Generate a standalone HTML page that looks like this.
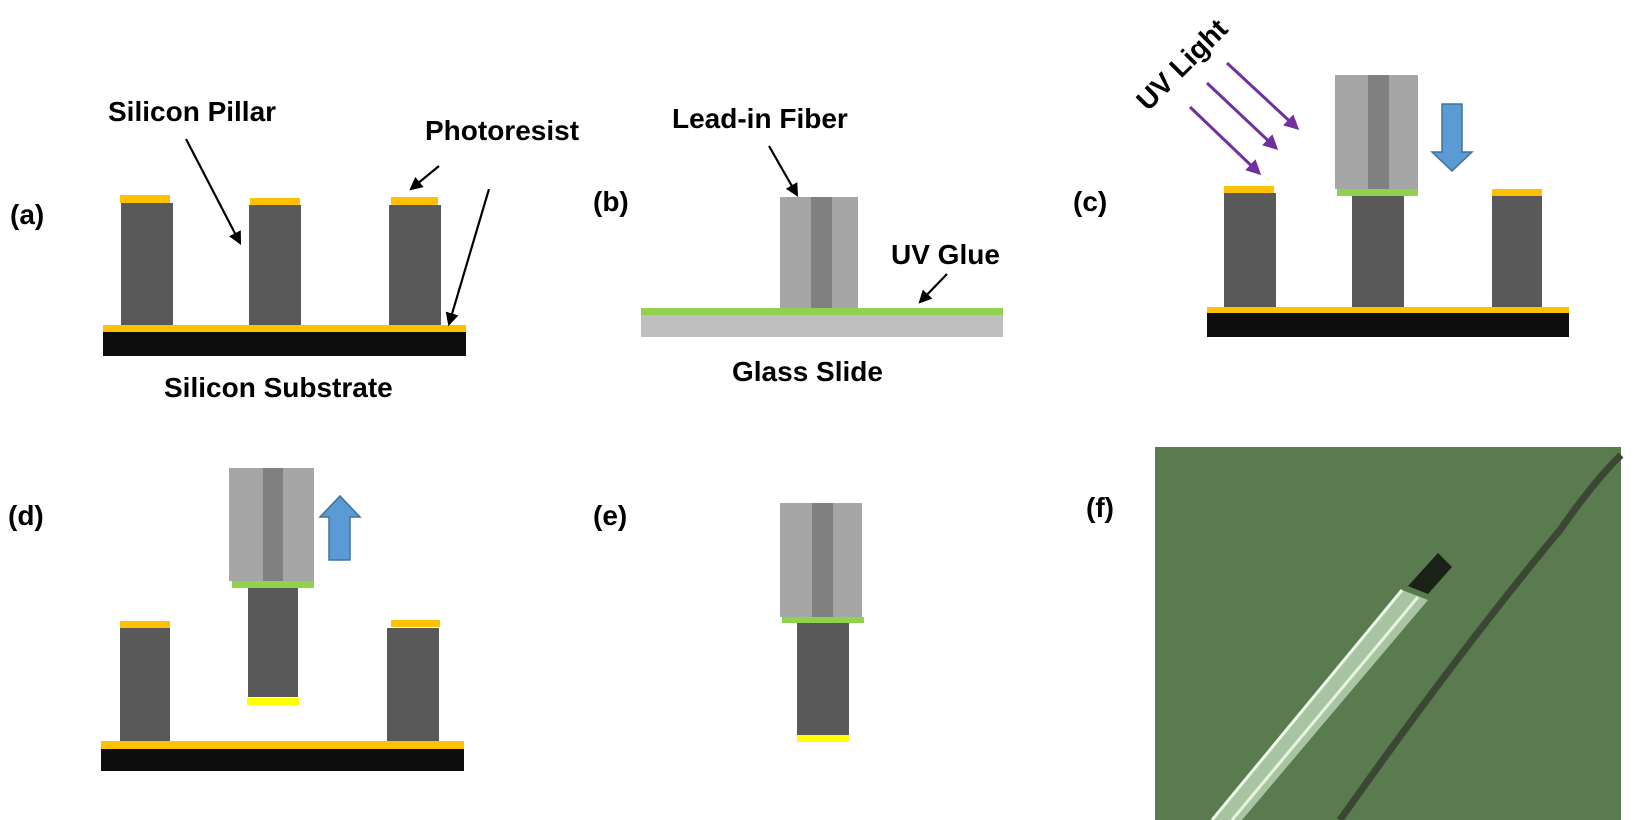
<!DOCTYPE html>
<html><head><meta charset="utf-8"><style>
html,body{margin:0;padding:0;background:#fff;}
svg{display:block;}
text{font-family:"Liberation Sans",sans-serif;font-weight:bold;font-size:28px;fill:#000;}
</style></head><body>
<svg width="1640" height="820" viewBox="0 0 1640 820" xmlns="http://www.w3.org/2000/svg">
<defs>
<marker id="ab" markerWidth="6" markerHeight="6" refX="5" refY="3" orient="auto" markerUnits="strokeWidth"><path d="M0,0 L6,3 L0,6 z" fill="#000"/></marker>
<marker id="ap" markerWidth="5" markerHeight="5" refX="4" refY="2.5" orient="auto" markerUnits="strokeWidth"><path d="M0,0 L5,2.5 L0,5 z" fill="#7030a0"/></marker>
</defs>
<!-- (a) -->
<text x="10" y="224">(a)</text>
<rect x="121" y="203" width="52" height="122" fill="#595959"/>
<rect x="120" y="195" width="50" height="8" fill="#ffc000"/>
<rect x="249" y="205" width="52" height="121" fill="#595959"/>
<rect x="250" y="198" width="50" height="7" fill="#ffc000"/>
<rect x="389" y="205" width="52" height="121" fill="#595959"/>
<rect x="391" y="197" width="47" height="8" fill="#ffc000"/>
<rect x="103" y="325" width="363" height="7" fill="#ffc000"/>
<rect x="103" y="332" width="363" height="24" fill="#0d0d0d"/>
<text x="108" y="121">Silicon Pillar</text>
<text x="425" y="140">Photoresist</text>
<text x="164" y="397">Silicon Substrate</text>
<line x1="186" y1="139" x2="240" y2="243" stroke="#000" stroke-width="2.2" marker-end="url(#ab)"/>
<line x1="439" y1="166" x2="411" y2="189" stroke="#000" stroke-width="2.2" marker-end="url(#ab)"/>
<line x1="489" y1="189" x2="449" y2="324" stroke="#000" stroke-width="2.2" marker-end="url(#ab)"/>
<!-- (b) -->
<text x="593" y="211">(b)</text>
<rect x="780" y="197" width="78" height="115" fill="#a6a6a6"/>
<rect x="811" y="197" width="21" height="115" fill="#808080"/>
<rect x="641" y="308" width="362" height="7" fill="#92d050"/>
<rect x="641" y="315" width="362" height="22" fill="#bfbfbf"/>
<text x="672" y="128">Lead-in Fiber</text>
<text x="891" y="264">UV Glue</text>
<text x="732" y="381">Glass Slide</text>
<line x1="769" y1="146" x2="797" y2="195" stroke="#000" stroke-width="2.2" marker-end="url(#ab)"/>
<line x1="947" y1="274" x2="920" y2="302" stroke="#000" stroke-width="2.2" marker-end="url(#ab)"/>
<!-- (c) -->
<text x="1073" y="211">(c)</text>
<text x="0" y="0" transform="translate(1148,112) rotate(-45)">UV Light</text>
<line x1="1190" y1="107" x2="1259" y2="173" stroke="#7030a0" stroke-width="3" marker-end="url(#ap)"/>
<line x1="1207" y1="83" x2="1276" y2="148" stroke="#7030a0" stroke-width="3" marker-end="url(#ap)"/>
<line x1="1227" y1="63" x2="1297" y2="128" stroke="#7030a0" stroke-width="3" marker-end="url(#ap)"/>
<rect x="1335" y="75" width="83" height="114" fill="#a6a6a6"/>
<rect x="1368" y="75" width="21" height="114" fill="#808080"/>
<rect x="1337" y="189" width="81" height="7" fill="#92d050"/>
<path d="M1442,104 L1462,104 L1462,152 L1472,152 L1452,171 L1432,152 L1442,152 z" fill="#5b9bd5" stroke="#41719c" stroke-width="1.5"/>
<rect x="1224" y="193" width="52" height="115" fill="#595959"/>
<rect x="1224" y="186" width="50" height="7" fill="#ffc000"/>
<rect x="1352" y="196" width="52" height="113" fill="#595959"/>
<rect x="1492" y="196" width="50" height="113" fill="#595959"/>
<rect x="1492" y="189" width="50" height="7" fill="#ffc000"/>
<rect x="1207" y="307" width="362" height="6" fill="#ffc000"/>
<rect x="1207" y="313" width="362" height="24" fill="#0d0d0d"/>
<!-- (d) -->
<text x="8" y="525">(d)</text>
<rect x="229" y="468" width="85" height="113" fill="#a6a6a6"/>
<rect x="263" y="468" width="20" height="113" fill="#808080"/>
<rect x="232" y="581" width="82" height="7" fill="#92d050"/>
<rect x="248" y="588" width="50" height="109" fill="#595959"/>
<rect x="247" y="698" width="52" height="7" fill="#ffff00"/>
<path d="M329,560 L350,560 L350,517 L360,517 L340,496 L320,517 L329,517 z" fill="#5b9bd5" stroke="#41719c" stroke-width="1.5"/>
<rect x="120" y="628" width="50" height="113" fill="#595959"/>
<rect x="120" y="621" width="50" height="7" fill="#ffc000"/>
<rect x="387" y="628" width="52" height="113" fill="#595959"/>
<rect x="391" y="620" width="49" height="7" fill="#ffc000"/>
<rect x="101" y="741" width="363" height="8" fill="#ffc000"/>
<rect x="101" y="749" width="363" height="22" fill="#0d0d0d"/>
<!-- (e) -->
<text x="593" y="525">(e)</text>
<rect x="780" y="503" width="82" height="114" fill="#a6a6a6"/>
<rect x="812" y="503" width="21" height="114" fill="#808080"/>
<rect x="782" y="617" width="82" height="6" fill="#92d050"/>
<rect x="797" y="623" width="52" height="112" fill="#595959"/>
<rect x="797" y="735" width="52" height="7" fill="#ffff00"/>
<!-- (f) -->
<text x="1086" y="517">(f)</text>
<rect x="1155" y="447" width="466" height="373" fill="#5a7a50"/>
<path d="M1340,820 Q1460,650 1560,530 Q1595,480 1621,455" fill="none" stroke="#3c4634" stroke-width="7"/>
<path d="M1212,820 L1402,590 L1428,600 L1242,820 z" fill="#a9c4a2"/>
<path d="M1212,820 L1402,590" stroke="#eef8e8" stroke-width="3"/>
<path d="M1232,820 L1418,597" stroke="#e6f4de" stroke-width="3"/>
<path d="M1438,553 L1452,567 L1428,594 L1408,586 z" fill="#1a2218"/>
</svg>
</body></html>
